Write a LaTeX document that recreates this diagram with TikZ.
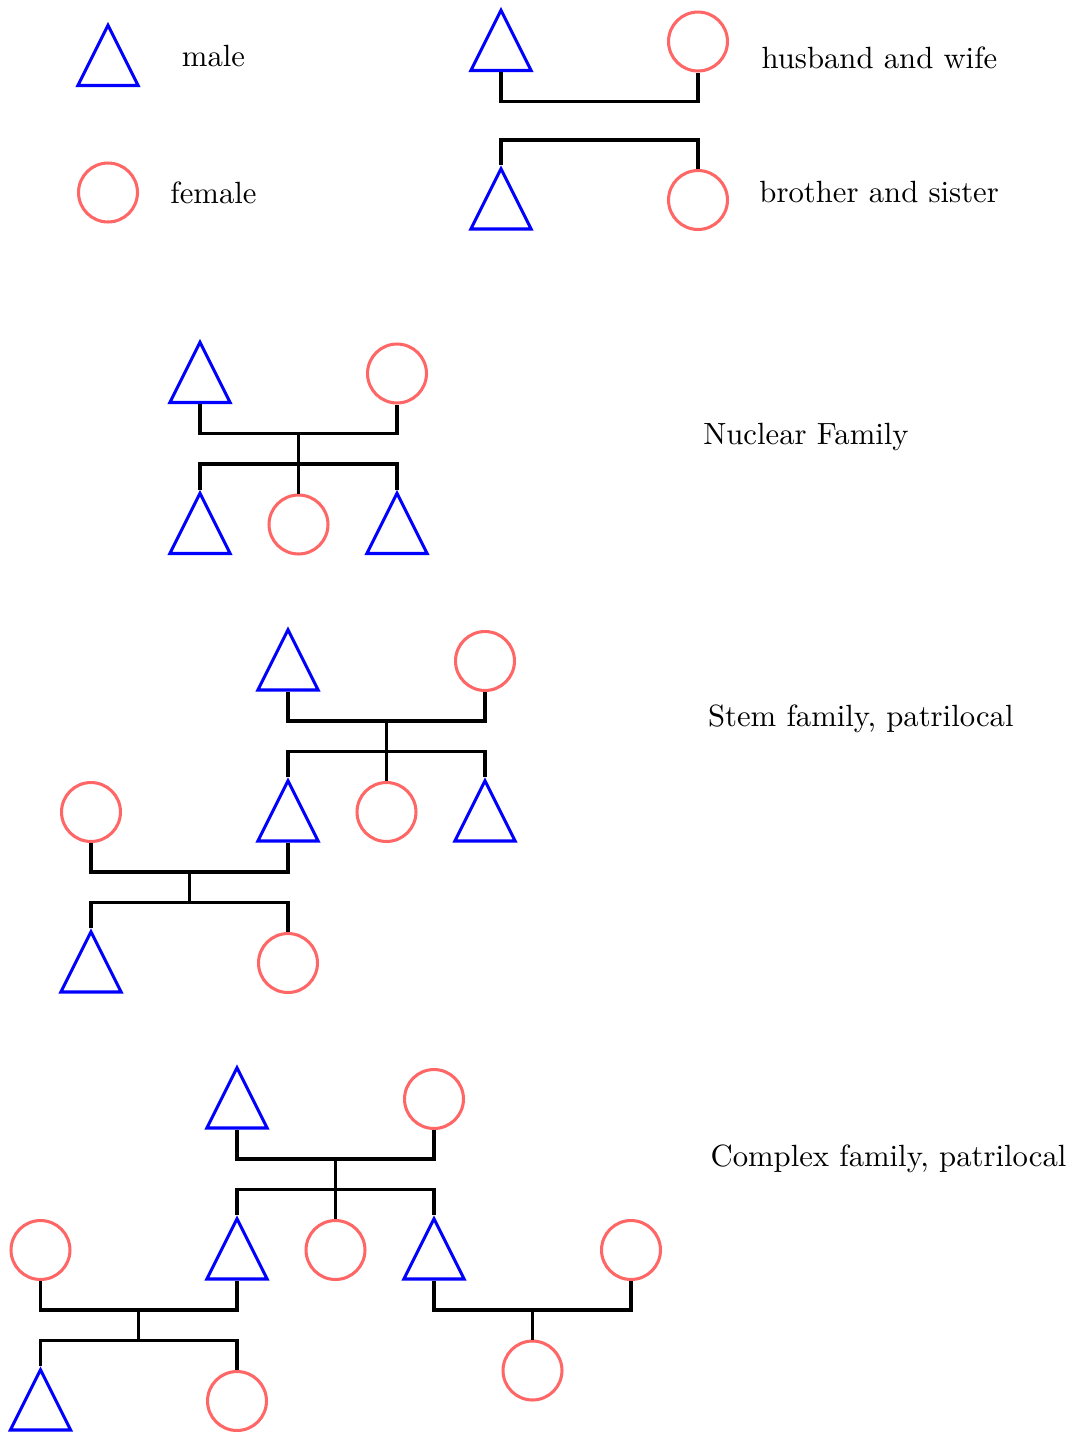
\documentclass[tikz,border=0pt]{standalone}
\usetikzlibrary{shapes.geometric}

\tikzset{
	male/.style={draw=blue, line width=1pt, isosceles triangle, isosceles triangle apex angle=53.13,
		shape border rotate=90, minimum width=19.6pt, minimum height=19.6pt, inner sep=0pt, anchor=lower side},
	female/.style={draw=red!60, line width=1pt, circle, minimum size=19.2pt, inner sep=0pt},
	kin/.style={line width=1pt},
	famtext/.style={inner sep=3.33pt}
}

\begin{document}
\begin{tikzpicture}[x=0.3257pt, y=-0.3257pt]
	\useasboundingbox (0,0) rectangle (1076,1432);
	% Legend
	\node[male] (lm) at (108,87) {};
	\node[female] (lf) at (108,192.5) {};
	\node[famtext] (tmale) at (213.5,56.5) {male};
	\node[famtext] (tfemale) at (213.5,192.5) {female};
	% husband and wife
	\node[male] (hh) at (501,72) {};
	\node[female] (hw) at (698,41.5) {};
	\coordinate (hmar) at (599.5,101.5);
	\draw[kin] (hh.lower side) |- (hmar) -| (hw.south);
	\node[famtext] (thw) at (879.5,57.5) {husband and wife};
	% brother and sister
	\node[male] (bb) at (501,230.5) {};
	\node[female] (bs) at (698,200) {};
	\coordinate (bsib) at (599.5,140);
	\draw[kin] (bb.apex) |- (bsib) -| (bs.north);
	\node[famtext] (tbs) at (879.2,192.2) {brother and sister};

	% Nuclear family
	\node[male] (nf) at (200,404) {};
	\node[female] (nm) at (397,373.5) {};
	\node[male] (nc1) at (200,555) {};
	\node[female] (nc2) at (298.5,524.5) {};
	\node[male] (nc3) at (397,555) {};
	\coordinate (nmar) at (298.5,433.5);
	\coordinate (nsib) at (298.5,464);
	\draw[kin] (nf.lower side) |- (nmar) -| (nm.south);
	\draw[kin] (nc1.apex) |- (nsib) -| (nc3.apex);
	\draw[kin] (nmar) -- (nc2.north);
	\node[famtext] (tnuc) at (806,437.3) {Nuclear Family};

	% Stem family
	\node[male] (sf) at (288,691.5) {};
	\node[female] (sm) at (485,661) {};
	\node[male] (sc1) at (288,842.5) {};
	\node[female] (sc2) at (386.5,812) {};
	\node[male] (sc3) at (485,842.5) {};
	\node[female] (sw) at (91,812) {};
	\node[male] (sg1) at (91,993.5) {};
	\node[female] (sg2) at (288,963) {};
	\coordinate (smar) at (386.5,721);
	\coordinate (ssib) at (386.5,751.5);
	\coordinate (swmar) at (189.5,872);
	\coordinate (swsib) at (189.5,902.5);
	\draw[kin] (sf.lower side) |- (smar) -| (sm.south);
	\draw[kin] (sc1.apex) |- (ssib) -| (sc3.apex);
	\draw[kin] (smar) -- (sc2.north);
	\draw[kin] (sw.south) |- (swmar) -| (sc1.lower side);
	\draw[kin] (sg1.apex) |- (swsib) -| (sg2.north);
	\draw[kin] (swmar) -- (swsib);
	\node[famtext] (tstem) at (860.8,719) {Stem family, patrilocal};

	% Complex family
	\node[male] (cf) at (237,1129.5) {};
	\node[female] (cm) at (434,1099) {};
	\node[male] (cc1) at (237,1280.5) {};
	\node[female] (cc2) at (335.5,1250) {};
	\node[male] (cc3) at (434,1280.5) {};
	\node[female] (cw1) at (40.5,1250) {};
	\node[female] (cw2) at (631,1250) {};
	\node[male] (cg1) at (40.5,1431.5) {};
	\node[female] (cg2) at (237,1401) {};
	\node[female] (cg3) at (532.5,1370.5) {};
	\coordinate (cmar) at (335.5,1159);
	\coordinate (csib) at (335.5,1189.5);
	\coordinate (cw1mar) at (138.75,1310);
	\coordinate (cw1sib) at (138.75,1340.5);
	\coordinate (cw2mar) at (532.5,1310);
	\draw[kin] (cf.lower side) |- (cmar) -| (cm.south);
	\draw[kin] (cc1.apex) |- (csib) -| (cc3.apex);
	\draw[kin] (cmar) -- (cc2.north);
	\draw[kin] (cw1.south) |- (cw1mar) -| (cc1.lower side);
	\draw[kin] (cg1.apex) |- (cw1sib) -| (cg2.north);
	\draw[kin] (cw1mar) -- (cw1sib);
	\draw[kin] (cc3.lower side) |- (cw2mar) -| (cw2.south);
	\draw[kin] (cw2mar) -- (cg3.north);
	\node[famtext] (tcomp) at (888.5,1159.3) {Complex family, patrilocal};
\end{tikzpicture}
\end{document}
